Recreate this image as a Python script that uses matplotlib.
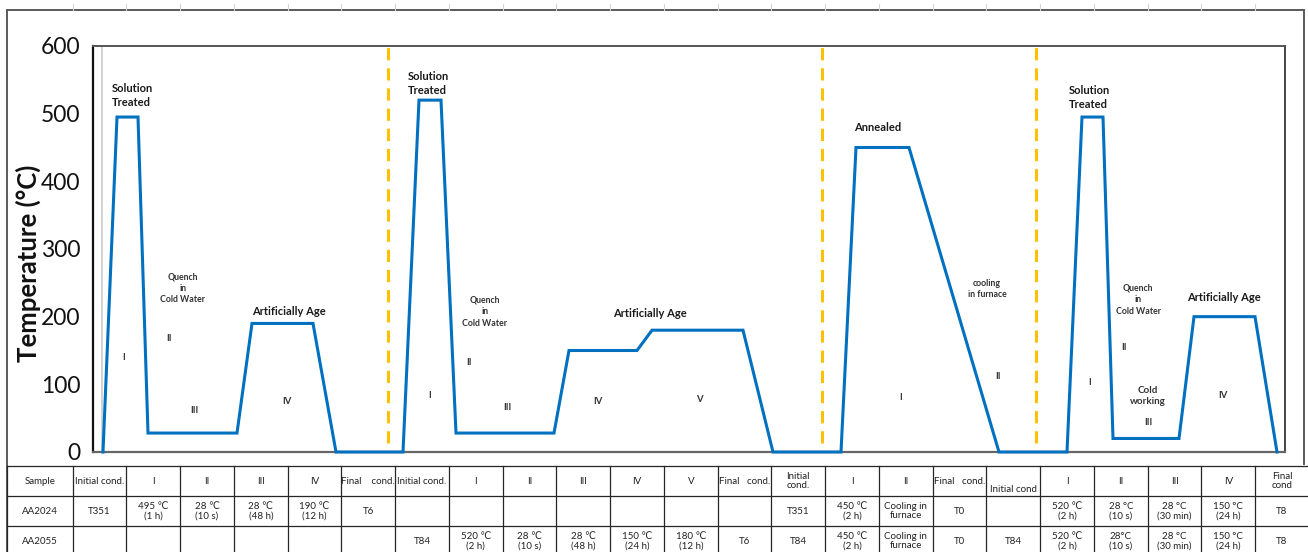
import matplotlib
matplotlib.use("Agg")
import matplotlib.pyplot as plt

FONTS = ["Lato", "DejaVu Sans"]
plt.rcParams["font.family"] = FONTS

# ---- heat-treatment cycle: schematic time (arbitrary units) vs temperature (°C)
time_pts = [10, 24, 45, 55, 144, 159, 220, 243, 310,
            326, 348, 363, 461, 476, 544, 559, 650, 680, 748,
            763, 816, 906, 974,
            989, 1010, 1020, 1086, 1101, 1162, 1184]
temp_pts = [0, 495, 495, 28, 28, 190, 190, 0, 0,
            520, 520, 28, 28, 150, 150, 180, 180, 0, 0,
            450, 450, 0, 0,
            495, 495, 20, 20, 200, 200, 0]

# boundaries between the four treatment routes
divider_times = [295, 729, 943]
time_span = (0, 1192)
temp_ticks = [0, 100, 200, 300, 400, 500, 600]

# stage annotations: (text, time, temperature, size, weight, align)
notes = [
    ("Solution\nTreated", 19, 527, 8, "bold", "left"),
    ("Quench\nin\nCold Water", 90, 242, 6.3, "bold", "center"),
    ("I", 31, 139, 6.8, "bold", "center"),
    ("II", 76, 168, 6.8, "bold", "center"),
    ("III", 101, 61, 6.8, "bold", "center"),
    ("Artificially Age", 196, 208, 8, "bold", "center"),
    ("IV", 194, 74, 6.8, "bold", "center"),

    ("Solution\nTreated", 315, 545, 8, "bold", "left"),
    ("Quench\nin\nCold Water", 392, 207, 6.3, "bold", "center"),
    ("II", 376, 132, 6.8, "bold", "center"),
    ("I", 337, 84, 6.8, "bold", "center"),
    ("III", 414, 66, 6.8, "bold", "center"),
    ("IV", 505, 74, 6.8, "bold", "center"),
    ("V", 606, 78, 6.8, "bold", "center"),
    ("Artificially Age", 557, 205, 8, "bold", "center"),

    ("Annealed", 785, 480, 8, "bold", "center"),
    ("cooling\nin furnace", 894, 241, 6.3, "bold", "center"),
    ("I", 808, 81, 6.8, "bold", "center"),
    ("II", 905, 111, 6.8, "bold", "center"),

    ("Solution\nTreated", 976, 524, 8, "bold", "left"),
    ("Quench\nin\nCold Water", 1045, 225, 6.3, "bold", "center"),
    ("II", 1031, 154, 6.8, "bold", "center"),
    ("I", 997, 102, 6.8, "bold", "center"),
    ("Cold\nworking", 1055, 83, 7, "bold", "center"),
    ("III", 1055, 44, 6.8, "bold", "center"),
    ("Artificially Age", 1131, 228, 8, "bold", "center"),
    ("IV", 1130, 83, 6.8, "bold", "center"),
]

# ---- process table
header_row = ["Sample", "Initial cond.", "I", "II", "III", "IV", "Final    cond.",
              "Initial cond.", "I", "II", "III", "IV", "V", "Final   cond.",
              "Initial\ncond.", "I", "II", "Final   cond.",
              "Initial cond", "I", "II", "III", "IV", "Final\ncond"]
aa2024_row = ["AA2024", "T351", "495 \u2103\n(1 h)", "28 \u2103\n(10 s)", "28 \u2103\n(48 h)",
              "190 \u2103\n(12 h)", "T6",
              "", "", "", "", "", "", "",
              "T351", "450 \u2103\n(2 h)", "Cooling in\nfurnace", "T0",
              "", "520 \u2103\n(2 h)", "28 \u00b0C\n(10 s)", "28 \u00b0C\n(30 min)",
              "150 \u00b0C\n(24 h)", "T8"]
aa2055_row = ["AA2055", "", "", "", "", "", "",
              "T84", "520 \u2103\n(2 h)", "28 \u2103\n(10 s)", "28 \u2103\n(48 h)",
              "150 \u2103\n(24 h)", "180 \u2103\n(12 h)", "T6",
              "T84", "450 \u2103\n(2 h)", "Cooling in\nfurnace", "T0",
              "T84", "520 \u2103\n(2 h)", "28\u00b0C\n(10 s)", "28 \u00b0C\n(30 min)",
              "150 \u00b0C\n(24 h)", "T8"]
table_rows = [header_row, aa2024_row, aa2055_row]

W, H = 1308, 552
fig = plt.figure(figsize=(W / 100, H / 100), dpi=100)

# main plot area (pixel box 93..1285 x 46..452)
ax = fig.add_axes([93 / W, 1 - 452 / H, (1285 - 93) / W, (452 - 46) / H])
ax.set_xlim(*time_span)
ax.set_ylim(0, 600)

ax.axvline(9, color="#c8c8c8", lw=1.1, zorder=1)
for t in divider_times:
    ax.plot([t, t], [14, 600], color="#FFC000", lw=2.2, dashes=(4, 2.6),
            zorder=2, clip_on=False)
ax.plot(time_pts, temp_pts, color="#0070C0", lw=2.2, zorder=3,
        solid_joinstyle="miter", clip_on=False)

for text, t, temp, size, weight, ha in notes:
    ax.text(t, temp, text, fontsize=size, fontweight=weight, ha=ha, va="center",
            color="#1a1a1a" if size > 7 else "#333333", linespacing=1.35)

ax.set_xticks([])
ax.set_yticks(temp_ticks)
ax.set_yticklabels([str(v) for v in temp_ticks], fontsize=16.5, color="#111111")
ax.tick_params(axis="y", length=0, pad=9)
ax.spines["left"].set_color("#111111")
ax.spines["left"].set_linewidth(1.6)
ax.spines["top"].set_color("#555555")
ax.spines["top"].set_linewidth(1.4)
ax.spines["right"].set_color("#444444")
ax.spines["right"].set_linewidth(1.4)
ax.spines["bottom"].set_color("#666666")
ax.spines["bottom"].set_linewidth(1.6)

fig.text(28 / W, 1 - 263 / H, "Temperature (\u00b0C)", rotation=90, ha="center",
         va="center", fontsize=18.5, fontweight="bold", color="#111111")

# overlay in pixel units for chart frame and the process table
ov = fig.add_axes([0, 0, 1, 1])
ov.set_xlim(0, W)
ov.set_ylim(H, 0)
ov.axis("off")

frame_c = "#5a5a5a"
ov.plot([7, 1304], [10, 10], color=frame_c, lw=1.4)
ov.plot([7, 7], [10, 560], color=frame_c, lw=1.4)
ov.plot([1304, 1304], [10, 464], color=frame_c, lw=1.4)

first_w, col_w = 65.7, 53.75
col_edges = [7, 7 + first_w] + [7 + first_w + col_w * k for k in range(1, 24)]
row_edges = [466, 496, 526, 556]

for x in col_edges[1:-1]:
    ov.plot([x, x], [4, 10], color="#d4d4d4", lw=0.8)

line_c = "#262626"
for y in row_edges:
    ov.plot([7, W + 5], [y, y], color=line_c, lw=0.9)
for x in col_edges[:-1]:
    ov.plot([x, x], [row_edges[0], row_edges[-1]], color=line_c, lw=0.9)

for r, row in enumerate(table_rows):
    yc = (row_edges[r] + row_edges[r + 1]) / 2
    for c, txt in enumerate(row):
        if not txt:
            continue
        xc = (col_edges[c] + col_edges[c + 1]) / 2
        dy = 8 if (r == 0 and txt == "Initial cond") else 0
        ov.text(xc, yc + dy, txt, fontsize=7, ha="center", va="center",
                color="#222222", linespacing=1.1, family=FONTS)

fig.savefig("out.png", dpi=100)
